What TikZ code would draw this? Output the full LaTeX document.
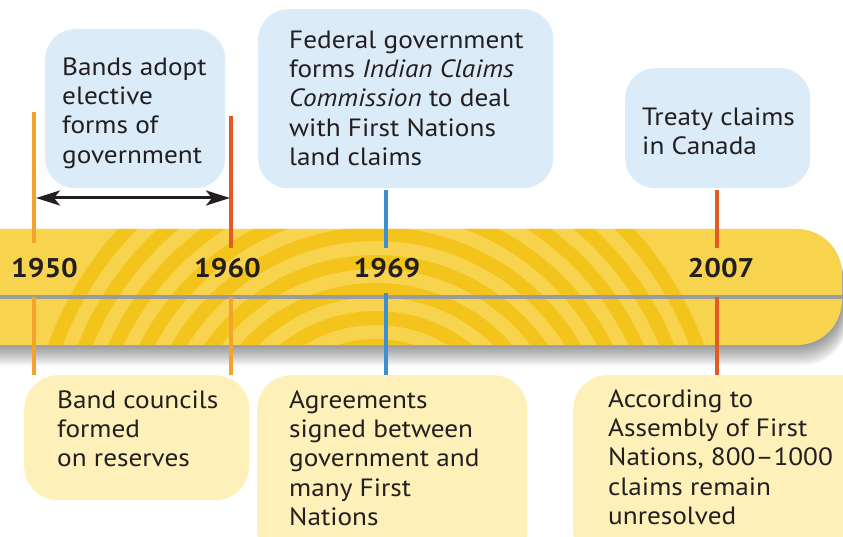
\documentclass[tikz,border=0pt]{standalone}
\usepackage{fontspec}
\setmainfont[FakeStretch=1.09]{PT Sans}
\usetikzlibrary{arrows.meta}
\definecolor{ink}{HTML}{231F20}
\definecolor{noteblue}{HTML}{DCEBF8}
\definecolor{noteyellow}{HTML}{FDF0B9}
\definecolor{barlight}{HTML}{F8D44E}
\definecolor{bardark}{HTML}{F3C41C}
\definecolor{axisgray}{HTML}{9B9B9D}
\definecolor{tickorange}{HTML}{F4A32C}
\definecolor{tickred}{HTML}{E35A25}
\definecolor{tickblue}{HTML}{3D8FD3}
\newcommand\notefont{\fontsize{25}{29.3}\selectfont}
\newcommand\yearfont{\fontsize{27}{30}\selectfont\bfseries}
% width, height, left pad, first-baseline offset, text
\newcommand\notetext[5]{\parbox[t][#2][t]{#1}{\raggedright\leftskip=#3\relax\rule{0pt}{#4}#5}}
\begin{document}
\begin{tikzpicture}[x=1pt,y=-1pt,
  note/.style={inner sep=0pt, anchor=north west, font=\notefont, text=ink},
  bluenote/.style={note, fill=noteblue, rounded corners=30pt},
  yellownote/.style={note, fill=noteyellow, rounded corners=34pt},
  year/.style={font=\yearfont, text=ink, anchor=base, inner sep=0pt},
  tick/.style={line width=3.5pt},
  span/.style={line width=3pt, draw=ink, {Stealth[length=24pt,width=15pt,inset=6pt]}-{Stealth[length=24pt,width=15pt,inset=6pt]}}]
\useasboundingbox (0,0) rectangle (843,537);
\clip (0,0) rectangle (843,537);
% --- timeline bar: shadow, body, rings ---
\foreach \i in {1,...,12}{
  \fill[black, opacity=0.04, rounded corners=45pt, shift={(0.5*\i,1.7*\i)}] (-80,229) rectangle (842,345);
}
\fill[barlight, rounded corners=45pt] (-80,229) rectangle (842,345);
\begin{scope}
  \clip[rounded corners=45pt] (-80,229) rectangle (842,345);
  \foreach \r in {342,314,...,118}
    \draw[bardark, line width=14pt] (376,464) circle[radius=\r pt];
\end{scope}
\coordinate (axisL) at (0,297);
\coordinate (axisR) at (843,297);
\draw[axisgray, line width=4pt] (axisL) -- (axisR);
% --- boxes ---
\node[bluenote] (adopt) at (45,29)
  {\notetext{180pt}{159pt}{17pt}{46pt}{Bands adopt\\elective\\forms of\\government}};
\node[bluenote] (commission) at (258,9)
  {\notetext{295pt}{179pt}{31pt}{39pt}{Federal government\\forms \textit{Indian Claims}\\\textit{Commission} to deal\\with First Nations\\land claims}};
\node[bluenote] (treaty) at (625,68)
  {\notetext{185pt}{120pt}{17pt}{57pt}{Treaty claims\\in Canada}};
\node[yellownote] (councils) at (24,375)
  {\notetext{225pt}{125pt}{33pt}{33pt}{Band councils\\formed\\on reserves}};
\node[yellownote] (agreements) at (257,375)
  {\notetext{270pt}{190pt}{32pt}{33pt}{Agreements\\signed between\\government and\\many First\\Nations}};
\node[yellownote] (assembly) at (573,375)
  {\notetext{310pt}{190pt}{35pt}{32pt}{According to\\Assembly of First\\Nations, 800--1000\\claims remain\\unresolved}};
% --- years ---
\node[year] (y1950) at (44.5,278) {1950};
\node[year] (y1960) at (227.5,278) {1960};
\node[year] (y1969) at (387,278) {1969};
\node[year] (y2007) at (721,278) {2007};
% --- tick lines ---
\coordinate (t50a) at (34,112);  \coordinate (t50b) at (34,243);
\coordinate (t50c) at (34,297);  \coordinate (t50d) at (34,375);
\coordinate (t60a) at (231,116); \coordinate (t60b) at (231,248);
\coordinate (t60c) at (231,297); \coordinate (t60d) at (231,375);
\coordinate (t69a) at (386,190); \coordinate (t69b) at (386,248);
\coordinate (t69c) at (386,293); \coordinate (t69d) at (386,375);
\coordinate (t07a) at (717,190); \coordinate (t07b) at (717,248);
\coordinate (t07c) at (717,297); \coordinate (t07d) at (717,375);
\draw[tick, tickorange] (t50a) -- (t50b);
\draw[tick, tickorange] (t50c) -- (t50d);
\draw[tick, tickred] (t60a) -- (t60b);
\draw[tick, tickorange] (t60c) -- (t60d);
\draw[tick, tickblue] (t69a) -- (t69b);
\draw[tick, tickblue] (t69c) -- (t69d);
\draw[tick, tickred] (t07a) -- (t07b);
\draw[tick, tickred] (t07c) -- (t07d);
% --- span arrow 1950-1960 ---
\coordinate (spanL) at (36,198);
\coordinate (spanR) at (230,198);
\draw[span] (spanL) -- (spanR);
\end{tikzpicture}
\end{document}
